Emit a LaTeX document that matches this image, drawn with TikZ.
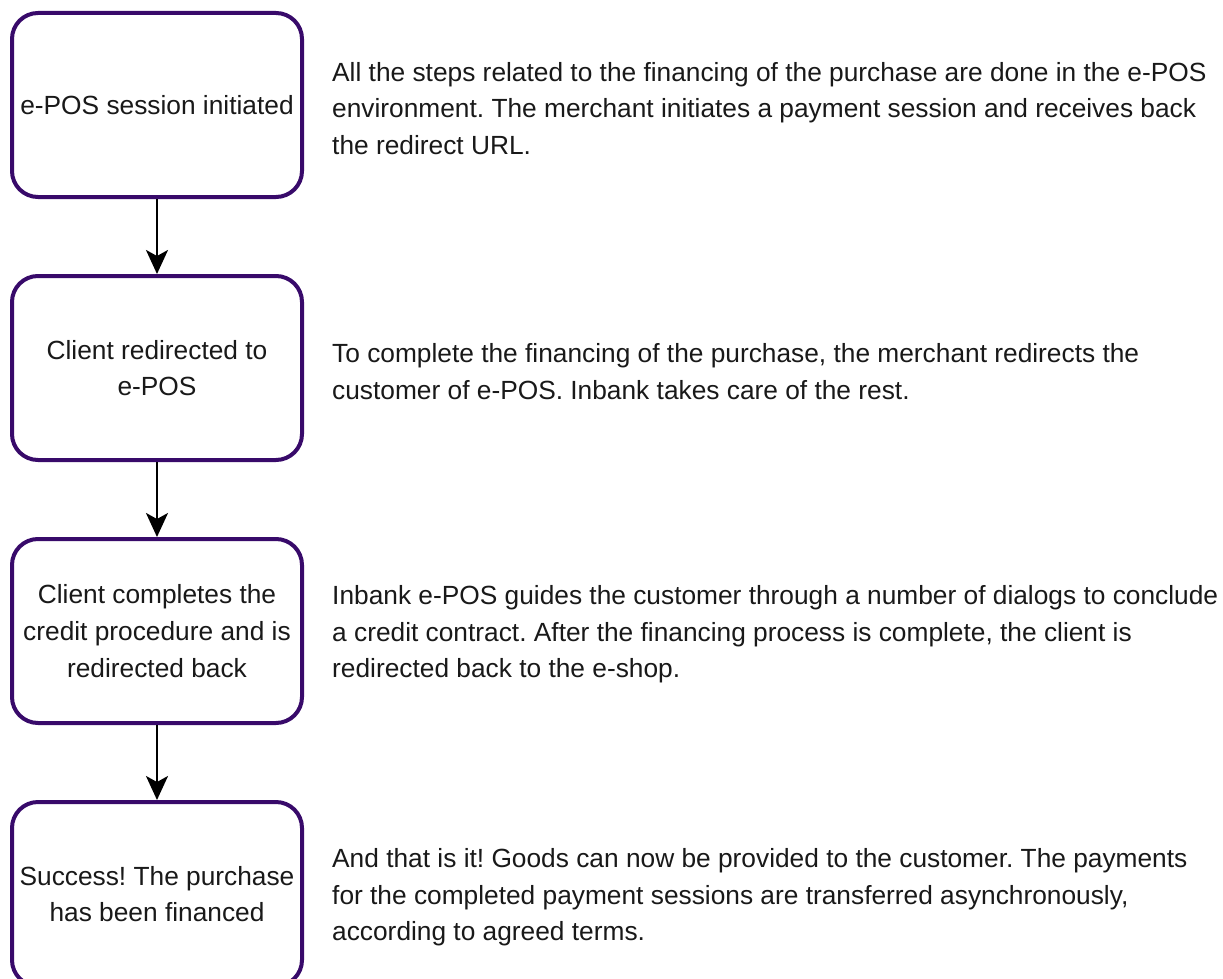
\documentclass[tikz,border=0pt]{standalone}
\usepackage{fontspec}
\setmainfont{Liberation Sans}
\usetikzlibrary{arrows.meta}
\definecolor{boxpurple}{RGB}{56,10,106}
\frenchspacing
\tikzset{
  stepbox/.style={draw=boxpurple, line width=4pt, rounded corners=26pt, minimum width=290pt, minimum height=184pt, inner sep=0pt, align=center, font=\fontsize{26.3}{36.8}\selectfont, text=black!90},
  desc/.style={anchor=west, align=left, inner sep=0pt, font=\fontsize{26.3}{36.6}\selectfont, text=black!90},
  flow/.style={draw=black, line width=2.2pt, -{Stealth[length=24pt,width=22pt,inset=6pt]}}
}
\begin{document}
\begin{tikzpicture}[x=1pt,y=-1pt]
\useasboundingbox (0,0) rectangle (1223,979);
\clip (0,0) rectangle (1223,979);
\fill[white] (0,0) rectangle (1223,979);
\node[stepbox] (b1) at (157,105) {e-POS session initiated};
\node[stepbox] (b2) at (157,368) {Client redirected to\\e-POS};
\node[stepbox] (b3) at (157,631) {Client completes the\\credit procedure and is\\redirected back};
\node[stepbox] (b4) at (157,894) {Success! The purchase\\has been financed};
\draw[flow] (b1.south) -- (b2.north);
\draw[flow] (b2.south) -- (b3.north);
\draw[flow] (b3.south) -- (b4.north);
\node[desc] (t1) at (332,108.5) {All the steps related to the financing of the purchase are done in the e-POS\\environment. The merchant initiates a payment session and receives back\\the redirect URL.};
\node[desc] (t2) at (332,371.5) {To complete the financing of the purchase, the merchant redirects the\\customer of e-POS. Inbank takes care of the rest.};
\node[desc] (t3) at (332,634.5) {Inbank e-POS guides the customer through a number of dialogs to conclude\\a credit contract. After the financing process is complete, the client is\\redirected back to the e-shop.};
\node[desc] (t4) at (332,897.5) {And that is it! Goods can now be provided to the customer. The payments\\for the completed payment sessions are transferred asynchronously,\\according to agreed terms.};
\end{tikzpicture}
\end{document}
